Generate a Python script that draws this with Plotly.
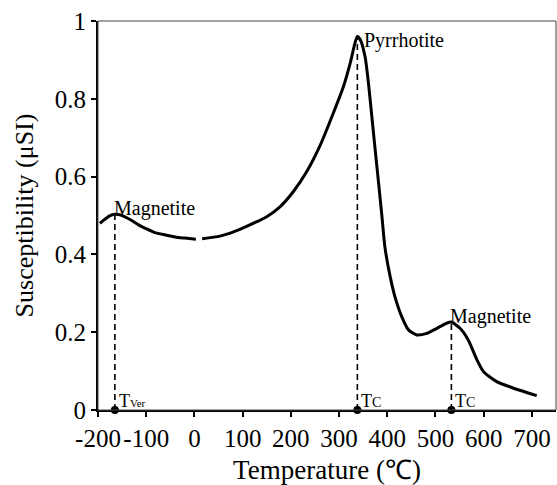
import plotly.graph_objects as go

# Low-temperature run (liquid-nitrogen warming up to room temperature)
low_T = [-196, -186, -176, -165, -155, -145, -130, -116, -100, -82, -60, -40, -20, 3]
low_k = [0.480, 0.490, 0.499, 0.503, 0.502, 0.497, 0.487, 0.476, 0.466, 0.456, 0.450, 0.445, 0.442, 0.439]

# High-temperature heating run
high_T = [16, 53, 81, 115, 150, 178, 205, 233, 261, 288, 309, 323, 333, 338, 344,
          354, 361, 368, 375, 382, 389, 395, 406, 416, 430, 444, 461, 482, 503, 523,
          533, 551, 568, 586, 600, 627, 662, 710]
high_k = [0.440, 0.447, 0.458, 0.476, 0.497, 0.523, 0.561, 0.613, 0.681, 0.763, 0.831,
          0.891, 0.943, 0.960, 0.952, 0.908, 0.840, 0.754, 0.668, 0.583, 0.497, 0.420,
          0.343, 0.291, 0.240, 0.206, 0.193, 0.197, 0.210, 0.223, 0.226, 0.210, 0.180,
          0.129, 0.098, 0.073, 0.056, 0.037]

# Transition temperatures and the susceptibility at each peak
trans_T = [-165, 338, 533]
trans_k = [0.503, 0.960, 0.226]
trans_phase = ["Magnetite", "Pyrrhotite", "Magnetite"]
trans_label = ["T<span style='font-size:11px'>Ver</span>",
               "T<span style='font-size:14px'>C</span>",
               "T<span style='font-size:14px'>C</span>"]

x_ticks = [-200, -100, 0, 100, 200, 300, 400, 500, 600, 700]
y_ticks = [0, 0.2, 0.4, 0.6, 0.8, 1]

FONT = "Liberation Serif"

fig = go.Figure()

# dashed drop lines from each peak down to the temperature axis
for t, k in zip(trans_T, trans_k):
    fig.add_trace(go.Scatter(x=[t, t], y=[0, k], mode="lines",
                             line=dict(color="black", width=1.6, dash="6px,4px"),
                             hoverinfo="skip", showlegend=False))

for xs, ys in ((low_T, low_k), (high_T, high_k)):
    fig.add_trace(go.Scatter(x=xs, y=ys, mode="lines",
                             line=dict(color="black", width=3, shape="spline", smoothing=0.6),
                             showlegend=False))

fig.add_trace(go.Scatter(x=trans_T, y=[0] * len(trans_T), mode="markers",
                         marker=dict(color="black", size=8), cliponaxis=False,
                         showlegend=False))

ann_font = dict(family=FONT, size=20, color="black")
annotations = []
for t, k, name in zip(trans_T, trans_k, trans_phase):
    if name == "Pyrrhotite":
        annotations.append(dict(x=t, y=k, text=name, xanchor="left", yanchor="middle",
                                xshift=5, yshift=-4, showarrow=False, font=ann_font))
    else:
        annotations.append(dict(x=t, y=k, text=name, xanchor="left", yanchor="bottom",
                                xshift=-3, yshift=-8, showarrow=False, font=ann_font))
for t, lab in zip(trans_T, trans_label):
    annotations.append(dict(x=t, y=0, text=lab, xanchor="left", yanchor="bottom",
                            xshift=2, yshift=-3, showarrow=False,
                            font=dict(family=FONT, size=18, color="black")))

fig.update_layout(
    width=557, height=485,
    margin=dict(l=98, r=1, t=21, b=75),
    paper_bgcolor="white", plot_bgcolor="white",
    font=dict(family=FONT, size=19, color="black"),
    annotations=annotations,
    shapes=[dict(type="rect", xref="x domain", yref="y domain", x0=0, y0=0, x1=1, y1=1,
                 line=dict(color="#444", width=1), layer="above")],
)
fig.update_xaxes(range=[-200, 750], tickvals=x_ticks,
                 ticktext=[str(v) for v in x_ticks], tickangle=0,
                 ticks="outside", ticklen=5, tickwidth=1.5, tickcolor="black",
                 showline=True, linecolor="black", linewidth=2, showgrid=False,
                 zeroline=False, tickfont=dict(family=FONT, size=25, color="black"),
                 title=dict(text="Temperature (℃)",
                            font=dict(family=FONT, size=27, color="black"), standoff=9))
fig.update_yaxes(range=[0, 1], tickvals=y_ticks,
                 ticktext=["0", "0.2", "0.4", "0.6", "0.8", "1"],
                 ticks="outside", ticklen=5, tickwidth=1.5, tickcolor="black",
                 showline=True, linecolor="black", linewidth=2, showgrid=False,
                 zeroline=False, tickfont=dict(family=FONT, size=25, color="black"),
                 title=dict(text="Susceptibility (μSI)",
                            font=dict(family=FONT, size=26, color="black"), standoff=14))

fig.write_html("out.html")
